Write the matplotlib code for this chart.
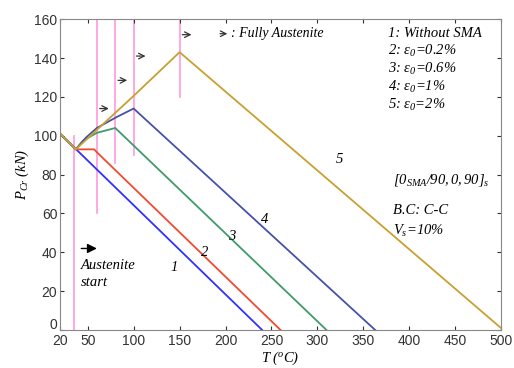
import matplotlib
matplotlib.use("Agg")
import matplotlib.pyplot as plt
import matplotlib.transforms as mtransforms

# curve data (T in degC, P_cr in kN)
T1 = [20, 240]
P1 = [101, 0]
T2 = [20, 37, 57, 60, 260]
P2 = [101, 93, 93, 91.5, 0]
T3 = [20, 37, 45, 60, 80, 310]
P3 = [101, 93, 97.5, 101.5, 104, 0]
T4 = [20, 37, 48, 60, 81, 100, 363]
P4 = [101, 93, 99, 104, 109.5, 114, 0]
T5 = [20, 37, 100, 150, 500]
P5 = [101, 93, 120.5, 143, 1]

# vertical marker lines: T, P bottom, P top
vT = [35, 60, 80, 100, 150]
vlo = [0, 60, 86, 90, 120]
vhi = [100, 160, 160, 160, 160]

# small arrows (fully austenite) start positions
arT = [60, 80, 100, 150]
arP = [114, 128.5, 141, 152]

legend_lines = ["1: Without SMA", r"2: $\varepsilon_0$=0.2%", r"3: $\varepsilon_0$=0.6%",
                r"4: $\varepsilon_0$=1%", r"5: $\varepsilon_0$=2%"]
curve_labels = ["1", "2", "3", "4", "5"]
label_T = [144, 177, 207, 243, 324]
label_P = [32, 40, 48, 57, 88]

plt.rcParams['mathtext.fontset'] = 'custom'
plt.rcParams['mathtext.rm'] = 'Liberation Serif:italic'
plt.rcParams['mathtext.it'] = 'Liberation Serif:italic'

fig = plt.figure(figsize=(5.14, 3.68), dpi=100)
ax = fig.add_axes([0.117, 0.103, 0.858, 0.845])

for t, lo, hi in zip(vT, vlo, vhi):
    ax.plot([t, t], [lo, hi], color='#ff99e0', lw=1.2, zorder=1)

ax.plot(T1, P1, color='#3030ff', lw=1.3)
ax.plot(T2, P2, color='#f04a30', lw=1.3)
ax.plot(T3, P3, color='#3f9a6c', lw=1.3)
ax.plot(T4, P4, color='#4452a8', lw=1.3)
ax.plot(T5, P5, color='#c8a030', lw=1.3)

serif = dict(family='Liberation Serif', style='italic')

for t, p in zip(arT, arP):
    ax.annotate('', xy=(t + 16, p), xytext=(t, p),
                arrowprops=dict(arrowstyle='->', color='#333333', lw=0.9))
ax.annotate('', xy=(205, 152.5), xytext=(191, 152.5),
            arrowprops=dict(arrowstyle='->', color='#333333', lw=0.9))
ax.text(206, 152.5, ': Fully Austenite', fontsize=10, va='center', **serif)

ax.annotate('', xy=(63, 42), xytext=(40, 42),
            arrowprops=dict(arrowstyle='-|>', color='black', lw=1.0, mutation_scale=14))
ax.text(42, 33, 'Austenite', fontsize=10.5, va='center', **serif)
ax.text(42, 24.5, 'start', fontsize=10.5, va='center', **serif)

for s, t, p in zip(curve_labels, label_T, label_P):
    ax.text(t, p, s, fontsize=10.5, ha='center', va='center', **serif)

for i, s in enumerate(legend_lines):
    ax.text(377, 152.8 - i * 9.3, s, fontsize=10.5, va='center', **serif)

ax.text(382, 77, r'$[0_{SMA}/90,0,90]_s$', fontsize=10.5, va='center')
ax.text(382, 61.5, 'B.C: C-C', fontsize=10.5, va='center', **serif)
ax.text(382, 51, r'$V_s$=10%', fontsize=10.5, va='center', **serif)

ax.set_xlim(20, 500)
ax.set_ylim(0, 160)
ax.set_xticks([20, 50, 100, 150, 200, 250, 300, 350, 400, 450, 500])
ax.set_yticks([0, 20, 40, 60, 80, 100, 120, 140, 160])
ax.tick_params(direction='in', top=True, right=True, labelsize=10, colors='#333333',
               length=3)
ax.tick_params(axis='x', pad=3)
ax.tick_params(axis='y', pad=2)
for lab in ax.get_xticklabels() + ax.get_yticklabels():
    lab.set_family('Liberation Sans')
for sp in ax.spines.values():
    sp.set_color('#888888')

# lift the "0" y label a little so it clears the "20" below it
fig.canvas.draw()
zero = ax.get_yticklabels()[0]
zero.set_transform(zero.get_transform() + mtransforms.ScaledTranslation(0, 5 / 72, fig.dpi_scale_trans))

ax.set_xlabel(r'$T\ (^oC)$', fontsize=10.5, labelpad=1)
ax.set_ylabel(r'$P_{Cr}\ (kN)$', fontsize=10.5, labelpad=2)

plt.savefig("out.png", dpi=100)
